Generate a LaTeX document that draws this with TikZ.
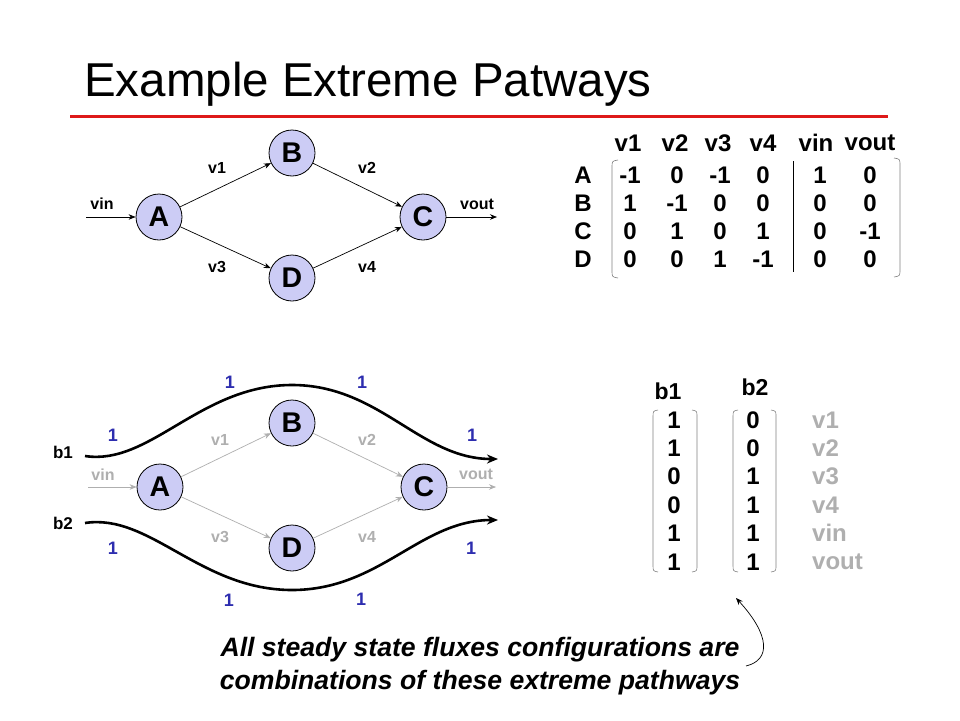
\documentclass[tikz,border=0pt]{standalone}
\usepackage{fontspec}
\setmainfont{Liberation Sans}
\usetikzlibrary{arrows.meta}
\definecolor{nodefill}{RGB}{204,204,245}
\definecolor{fluxblue}{RGB}{45,45,175}
\definecolor{lightg}{RGB}{175,175,175}
\definecolor{brkgray}{RGB}{130,130,130}
\definecolor{titlered}{RGB}{222,25,25}
\begin{document}
\begin{tikzpicture}[x=1pt,y=-1pt,
  nd/.style={circle, draw=black, line width=0.8pt, fill=nodefill, minimum size=46pt, inner sep=0pt, font=\fontsize{28.5}{28.5}\selectfont\bfseries},
  ed/.style={-{Stealth[length=7pt,width=5.5pt]}, line width=0.7pt, draw=black},
  ged/.style={-{Stealth[length=7pt,width=5.5pt]}, line width=0.7pt, draw=lightg},
  elab/.style={font=\fontsize{16}{16}\selectfont\bfseries, inner sep=0pt},
  gelab/.style={elab, text=lightg},
  mat/.style={font=\fontsize{24}{24}\selectfont\bfseries, inner sep=0pt},
  hdr/.style={font=\fontsize{23}{23}\selectfont\bfseries, inner sep=0pt},
  one/.style={font=\fontsize{18}{18}\selectfont\bfseries, text=fluxblue, inner sep=0pt},
  flow/.style={line width=2.6pt, -{Stealth[length=11pt,width=9pt]}},
  brk/.style={draw=brkgray, line width=0.6pt},
  note/.style={font=\fontsize{26.6}{30}\selectfont\bfseries\itshape, inner sep=0pt}
]
\useasboundingbox (0,0) rectangle (960,720);
\fill[white] (0,0) rectangle (960,720);

% title
\node[anchor=base west, inner sep=0pt, font=\fontsize{47.5}{48}\selectfont] (title) at (84,96) {Example Extreme Patways};
\draw[titlered, line width=3pt] (70,116) -- (888,116);

% ---------- top graph ----------
\node[nd] (A) at (159,217) {A};
\node[nd] (B) at (292,153) {B};
\node[nd] (C) at (423,217) {C};
\node[nd] (D) at (292,278) {D};
\coordinate (vin0) at (86,217);
\coordinate (vout1) at (497,217);
\draw[ed] (vin0) -- (A);
\draw[ed] (A) -- (B);
\draw[ed] (A) -- (D);
\draw[ed] (B) -- (C);
\draw[ed] (D) -- (C);
\draw[ed] (C) -- (vout1);
\node[elab] (lvin) at (102,204) {vin};
\node[elab] (lvout) at (477,204) {vout};
\node[elab] (lv1) at (217,168) {v1};
\node[elab] (lv2) at (367,168) {v2};
\node[elab] (lv3) at (217,267) {v3};
\node[elab] (lv4) at (367,267) {v4};

% ---------- top matrix ----------
\foreach \h/\x [count=\i] in {v1/628,v2/675,v3/718,v4/763,vin/816,vout/870}
  \node[mat] (h\i) at (\x,143) {\h};
\foreach \r/\y in {A/175,B/203,C/231,D/259}
  \node[mat] (r\r) at (583,\y) {\r};
\foreach \v/\x [count=\j] in {-1/630,0/677,-1/720,0/763,1/820,0/870}
  \node[mat] (mA\j) at (\x,175) {\v};
\foreach \v/\x [count=\j] in {1/630,-1/677,0/720,0/763,0/820,0/870}
  \node[mat] (mB\j) at (\x,203) {\v};
\foreach \v/\x [count=\j] in {0/630,1/677,0/720,1/763,0/820,-1/870}
  \node[mat] (mC\j) at (\x,231) {\v};
\foreach \v/\x [count=\j] in {0/630,0/677,1/720,-1/763,0/820,0/870}
  \node[mat] (mD\j) at (\x,259) {\v};
\draw[black, line width=0.8pt] (793,161) -- (793,272);
\draw[brk] (618,160) .. controls (612,161) .. (612,168) -- (612,270) .. controls (612,277) .. (618,278);
\draw[brk] (894,158) .. controls (900,159) .. (900,166) -- (900,269) .. controls (900,276) .. (894,277);

% ---------- bottom graph ----------
\node[nd] (A2) at (160,487) {A};
\node[nd] (B2) at (292,423) {B};
\node[nd] (C2) at (424,487) {C};
\node[nd] (D2) at (292,548) {D};
\coordinate (vin2) at (88,487);
\coordinate (vout2) at (496,487);
\draw[ged] (vin2) -- (A2);
\draw[ged] (A2) -- (B2);
\draw[ged] (A2) -- (D2);
\draw[ged] (B2) -- (C2);
\draw[ged] (D2) -- (C2);
\draw[ged] (C2) -- (vout2);
\node[gelab] (gvin) at (103,475) {vin};
\node[gelab] (gvout) at (476,474) {vout};
\node[gelab] (gv1) at (220,440) {v1};
\node[gelab] (gv2) at (367,440) {v2};
\node[gelab] (gv3) at (220,537) {v3};
\node[gelab] (gv4) at (367,537) {v4};

% flows
\coordinate (b1s) at (85,456);
\coordinate (b1e) at (498,459);
\coordinate (b2s) at (85,523);
\coordinate (b2e) at (498,520);
\draw[flow] (b1s) .. controls (150,466) and (200,385) .. (292,385) .. controls (380,385) and (420,459) .. (b1e);
\draw[flow] (b2s) .. controls (150,513) and (200,590) .. (292,590) .. controls (380,590) and (420,520) .. (b2e);
\node[elab, font=\fontsize{17}{17}\selectfont\bfseries] (lb1) at (63,452) {b1};
\node[elab, font=\fontsize{17}{17}\selectfont\bfseries] (lb2) at (63,523) {b2};

\node[one] (o1) at (230,382) {1};
\node[one] (o2) at (362,382) {1};
\node[one] (o3) at (113,435) {1};
\node[one] (o4) at (472,435) {1};
\node[one] (o5) at (113,548) {1};
\node[one] (o6) at (471,548) {1};
\node[one] (o7) at (229,600) {1};
\node[one] (o8) at (361,599) {1};

% ---------- bottom vectors ----------
\node[hdr] (hb1) at (668,391) {b1};
\node[hdr] (hb2) at (755,387) {b2};
\foreach \v/\y [count=\i] in {1/420,1/448,0/476,0/505,1/533,1/562}
  \node[mat] (pa\i) at (674,\y) {\v};
\foreach \v/\y [count=\i] in {0/420,0/448,1/476,1/505,1/533,1/562}
  \node[mat] (pb\i) at (753,\y) {\v};
\foreach \t/\y [count=\i] in {v1/420,v2/448,v3/476,v4/505,vin/533,vout/562}
  \node[mat, text=lightg, anchor=west] (pl\i) at (812,\y) {\t};
\draw[brk] (658,410) .. controls (653,411) .. (653,417) -- (653,565) .. controls (653,571) .. (658,572);
\draw[brk] (692,410) .. controls (697,411) .. (697,417) -- (697,565) .. controls (697,571) .. (692,572);
\draw[brk] (738,410) .. controls (733,411) .. (733,417) -- (733,565) .. controls (733,571) .. (738,572);
\draw[brk] (771,410) .. controls (776,411) .. (776,417) -- (776,565) .. controls (776,571) .. (771,572);

% ---------- note ----------
\node[note, anchor=base] (st1) at (480,656) {All steady state fluxes configurations are};
\node[note, anchor=base] (st2) at (480,689) {combinations of these extreme pathways};
\coordinate (ctail) at (746,666);
\coordinate (ctip) at (736,598);
\draw[-{Stealth[length=7pt,width=5.5pt]}, line width=0.7pt] (ctail) .. controls (771,660) and (770,635) .. (ctip);
\end{tikzpicture}
\end{document}
